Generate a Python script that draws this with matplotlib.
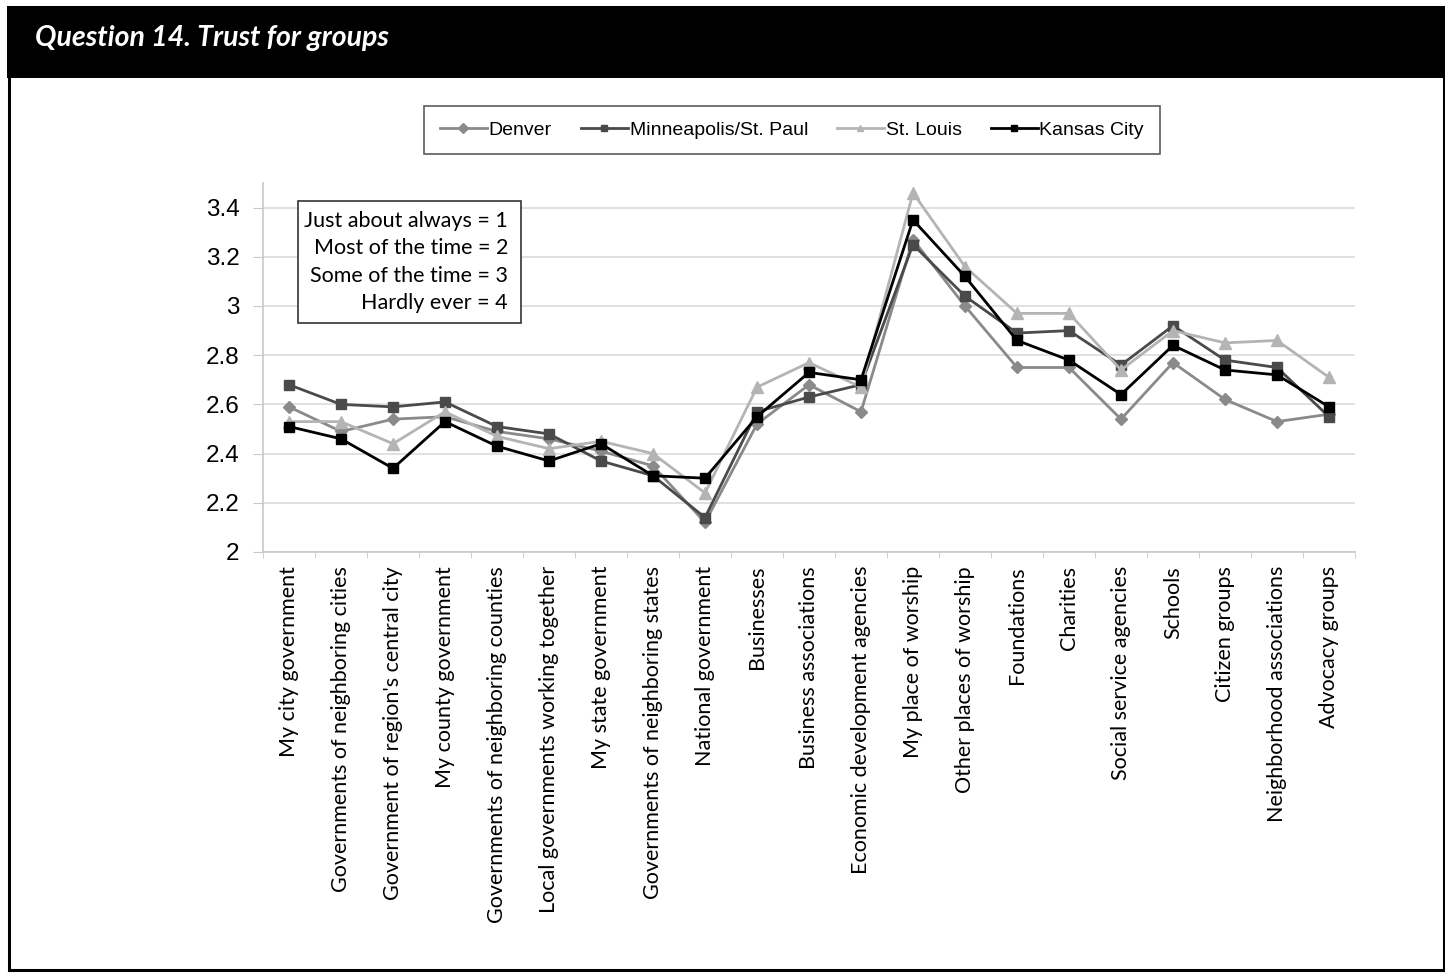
import matplotlib
matplotlib.use("Agg")
import matplotlib.pyplot as plt
from matplotlib.patches import Rectangle
import numpy as np

categories = [
    "My city government",
    "Governments of neighboring cities",
    "Government of region's central city",
    "My county government",
    "Governments of neighboring counties",
    "Local governments working together",
    "My state government",
    "Governments of neighboring states",
    "National government",
    "Businesses",
    "Business associations",
    "Economic development agencies",
    "My place of worship",
    "Other places of worship",
    "Foundations",
    "Charities",
    "Social service agencies",
    "Schools",
    "Citizen groups",
    "Neighborhood associations",
    "Advocacy groups",
]

denver = [2.59, 2.49, 2.54, 2.55, 2.49, 2.46, 2.41, 2.35, 2.12, 2.52,
          2.68, 2.57, 3.27, 3.00, 2.75, 2.75, 2.54, 2.77, 2.62, 2.53, 2.56]
minneapolis = [2.68, 2.60, 2.59, 2.61, 2.51, 2.48, 2.37, 2.31, 2.14, 2.57,
               2.63, 2.68, 3.25, 3.04, 2.89, 2.90, 2.76, 2.92, 2.78, 2.75, 2.55]
st_louis = [2.53, 2.53, 2.44, 2.57, 2.47, 2.42, 2.45, 2.40, 2.24, 2.67,
            2.77, 2.67, 3.46, 3.16, 2.97, 2.97, 2.74, 2.90, 2.85, 2.86, 2.71]
kansas_city = [2.51, 2.46, 2.34, 2.53, 2.43, 2.37, 2.44, 2.31, 2.30, 2.55,
               2.73, 2.70, 3.35, 3.12, 2.86, 2.78, 2.64, 2.84, 2.74, 2.72, 2.59]

series_names = ["Denver", "Minneapolis/St. Paul", "St. Louis", "Kansas City"]
y_ticks = [2, 2.2, 2.4, 2.6, 2.8, 3, 3.2, 3.4]
y_tick_labels = ["2", "2.2", "2.4", "2.6", "2.8", "3", "3.2", "3.4"]
scale_lines = ["Just about always = 1", "Most of the time = 2",
               "Some of the time = 3", "Hardly ever = 4"]

W, H = 1445, 973
fig = plt.figure(figsize=(W / 100, H / 100), dpi=100)
fig.patch.set_facecolor("white")


def fx(px):
    return px / W


def fy(py):
    return 1 - py / H


# header band and outer frame
fig.add_artist(Rectangle((fx(7), fy(78)), 1 - fx(7), 72 / H,
                         transform=fig.transFigure, facecolor="black",
                         edgecolor="none", zorder=0))
fig.add_artist(Rectangle((fx(8.5), fy(969.5)), (1443.5 - 8.5) / W,
                         (969.5 - 70) / H, transform=fig.transFigure,
                         facecolor="none", edgecolor="black", lw=2.2, zorder=0))
fig.text(fx(35), fy(38), "Question 14. Trust for groups", color="white",
         fontsize=20.5, fontweight="bold", fontstyle="italic", family="Lato",
         ha="left", va="center")

ax = fig.add_axes([fx(263), fy(552), (1355 - 263) / W, (552 - 183) / H])
x = np.arange(len(categories))

styles = [
    dict(color="#8a8a8a", marker="D", markersize=6.5),
    dict(color="#4a4a4a", marker="s", markersize=7.5),
    dict(color="#b4b4b4", marker="^", markersize=8.5),
    dict(color="#000000", marker="s", markersize=7.5),
]
data = [denver, minneapolis, st_louis, kansas_city]
handles = []
for vals, st, name in zip(data, styles, series_names):
    (ln,) = ax.plot(x, vals, lw=2.0, label=name, zorder=3, **st)
    handles.append(ln)

ax.set_xlim(-0.5, len(categories) - 0.5)
ax.set_ylim(2, 3.5)
ax.set_yticks(y_ticks)
ax.set_yticklabels(y_tick_labels, family="Liberation Sans", fontsize=17.5)
ax.set_xticks(x)
ax.set_xticklabels(categories, rotation=90, family="Lato", fontsize=15.5,
                   va="top", ha="center")
ax.set_xticks(np.arange(-0.5, len(categories), 1), minor=True)
ax.tick_params(axis="x", which="major", length=0, pad=10)
ax.tick_params(axis="x", which="minor", length=4, color="#c8c8c8", direction="out")
ax.tick_params(axis="y", length=7, color="#c8c8c8", pad=10)
ax.yaxis.grid(True, color="#dcdcdc", lw=1.2, zorder=0)
ax.set_axisbelow(True)
for side in ["top", "right"]:
    ax.spines[side].set_visible(False)
for side in ["left", "bottom"]:
    ax.spines[side].set_color("#c8c8c8")
    ax.spines[side].set_linewidth(1.2)

# response scale key
fig.add_artist(Rectangle((fx(298), fy(323)), (521 - 298) / W, (323 - 201) / H,
                         transform=fig.transFigure, facecolor="white",
                         edgecolor="#333333", lw=1.2, zorder=4))
for i, line in enumerate(scale_lines):
    fig.text(fx(508), fy(221 + 27.3 * i), line, ha="right", va="center",
             family="Lato", fontsize=15.5, zorder=6)

leg = fig.legend(handles=handles, loc="center", bbox_to_anchor=(fx(792), fy(130)),
                 ncol=4, frameon=True, fancybox=False, edgecolor="#333333",
                 prop=dict(family="Liberation Sans", size=14), handlelength=2.4,
                 handletextpad=0.1, columnspacing=1.5, borderpad=0.8)
leg.get_frame().set_linewidth(1.2)
for h in leg.legend_handles:
    h.set_markersize(5)

fig.savefig("out.png", dpi=100, facecolor="white")
